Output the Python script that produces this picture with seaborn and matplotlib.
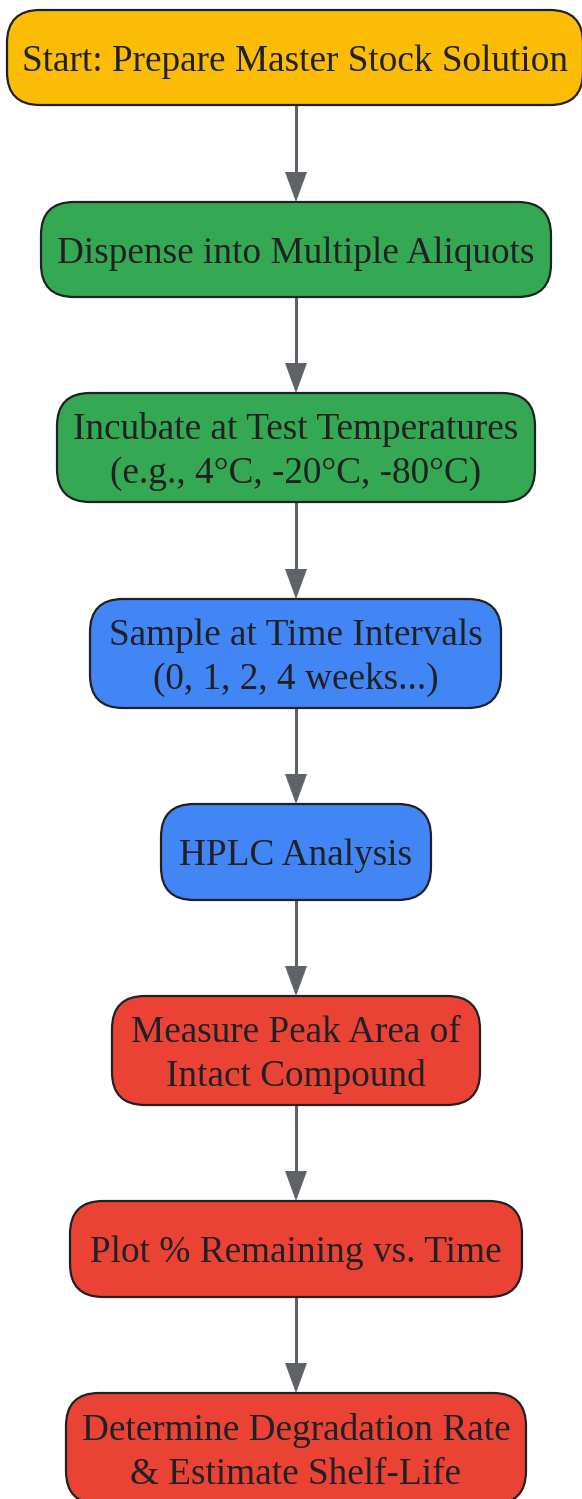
import seaborn as sns
import matplotlib.pyplot as plt
from matplotlib.patches import FancyBboxPatch

# node labels and fills, top to bottom
labels = [
    "Start: Prepare Master Stock Solution",
    "Dispense into Multiple Aliquots",
    "Incubate at Test Temperatures\n(e.g., 4°C, -20°C, -80°C)",
    "Sample at Time Intervals\n(0, 1, 2, 4 weeks...)",
    "HPLC Analysis",
    "Measure Peak Area of\nIntact Compound",
    "Plot % Remaining vs. Time",
    "Determine Degradation Rate\n& Estimate Shelf-Life",
]
fills = ["#FBBC05", "#34A853", "#34A853", "#4285F4",
         "#4285F4", "#EA4335", "#EA4335", "#EA4335"]

# layout in pixels (left, right, top, bottom)
lefts = [7, 41, 57, 90, 161, 112, 70, 66]
rights = [583, 551, 535, 501, 431, 480, 522, 526]
tops = [10, 202, 393, 599, 804, 996, 1201, 1393]
bottoms = [105, 297, 502, 708, 900, 1105, 1297, 1504]

W, H = 582, 1499
sns.set_theme(style="white")
plt.rcParams['font.family'] = ['Liberation Serif', 'DejaVu Serif']

fig = plt.figure(figsize=(W / 100, H / 100), dpi=100)
ax = fig.add_axes([0, 0, 1, 1])
ax.set_xlim(0, W)
ax.set_ylim(H, 0)
ax.axis("off")

cx = 296
for i, lab in enumerate(labels):
    l, r, t, b = lefts[i], rights[i], tops[i], bottoms[i]
    box = FancyBboxPatch((l, t), r - l, b - t,
                         boxstyle="round,pad=0,rounding_size=33",
                         facecolor=fills[i], edgecolor="#202124",
                         linewidth=1.6, zorder=2)
    ax.add_patch(box)
    ax.text((l + r) / 2, (t + b) / 2 + 4, lab, ha="center", va="center",
            fontsize=26.8, color="#202124", linespacing=1.34, zorder=3)

    if i < len(labels) - 1:
        y0 = b
        y1 = tops[i + 1]
        ax.plot([cx, cx], [y0, y1 - 28], color="#5f6368", lw=2.2, zorder=1,
                solid_capstyle="butt")
        ax.fill([cx - 11, cx + 11, cx], [y1 - 30, y1 - 30, y1],
                color="#5f6368", zorder=1, lw=0)

fig.savefig("out.png", dpi=100)
